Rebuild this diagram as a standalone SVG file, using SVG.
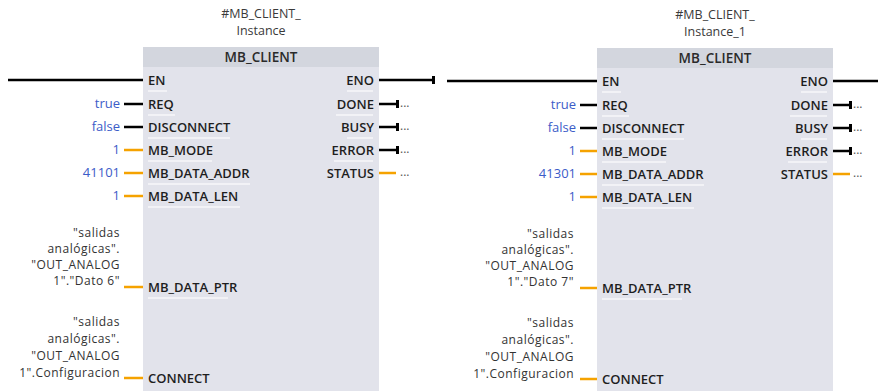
<svg xmlns="http://www.w3.org/2000/svg" width="878" height="391" viewBox="0 0 878 391">
  <style>
    .body { fill: #e2e3eb; }
    .head { fill: #d3d6de; }
    .title { font-family: "Open Sans", "Noto Sans", sans-serif; font-size: 12.5px; fill: #3a3a3a; text-anchor: middle; }
    .fbname { font-family: "Open Sans", "Noto Sans", sans-serif; font-size: 13.5px; font-weight: 600; fill: #2a2a2a; text-anchor: middle; }
    .pin { font-family: "Open Sans", "Noto Sans", sans-serif; font-size: 13px; font-weight: 600; fill: #1e1e1e; }
    .pout { font-family: "Open Sans", "Noto Sans", sans-serif; font-size: 13px; font-weight: 600; fill: #1e1e1e; text-anchor: end; }
    .val { font-family: "Open Sans", "Noto Sans", sans-serif; font-size: 13px; fill: #3c5cc8; text-anchor: end; }
    .opnd { font-family: "Open Sans", "Noto Sans", sans-serif; font-size: 12px; letter-spacing: 0.5px; fill: #333; text-anchor: end; }
    .dots { font-family: "Open Sans", "Noto Sans", sans-serif; font-size: 12px; fill: #555; }
    .bool { stroke: #000; stroke-width: 2.5; fill: none; }
    .word { stroke: #f5a200; stroke-width: 2.5; fill: none; }
    .sep { stroke: #f7f7fa; stroke-width: 1.5; }
    .tick { fill: #000; }
  </style>

  <!-- connectors: power rail, inputs and outputs -->
  <g id="connectors">
    <!-- left instance -->
    <line class="bool" x1="8" y1="80" x2="143" y2="80"/>
    <line class="bool" x1="124" y1="104" x2="143" y2="104"/>
    <line class="bool" x1="124" y1="127" x2="143" y2="127"/>
    <line class="word" x1="124" y1="150" x2="143" y2="150"/>
    <line class="word" x1="124" y1="173" x2="143" y2="173"/>
    <line class="word" x1="124" y1="196" x2="143" y2="196"/>
    <line class="word" x1="124" y1="287" x2="143" y2="287"/>
    <line class="word" x1="124" y1="378" x2="143" y2="378"/>
    <line class="bool" x1="379" y1="80" x2="433" y2="80"/>
    <rect class="tick" x="432" y="76" width="3" height="8"/>
    <line class="bool" x1="379" y1="104" x2="397" y2="104"/>
    <rect class="tick" x="396" y="100" width="3" height="8"/>
    <line class="bool" x1="379" y1="127" x2="397" y2="127"/>
    <rect class="tick" x="396" y="123" width="3" height="8"/>
    <line class="bool" x1="379" y1="150" x2="397" y2="150"/>
    <rect class="tick" x="396" y="146" width="3" height="8"/>
    <line class="word" x1="379" y1="173" x2="396" y2="173"/>

    <!-- right instance -->
    <line class="bool" x1="447" y1="81" x2="597" y2="81"/>
    <line class="bool" x1="580" y1="105" x2="597" y2="105"/>
    <line class="bool" x1="580" y1="128" x2="597" y2="128"/>
    <line class="word" x1="580" y1="151" x2="597" y2="151"/>
    <line class="word" x1="580" y1="174" x2="597" y2="174"/>
    <line class="word" x1="580" y1="197" x2="597" y2="197"/>
    <line class="word" x1="580" y1="288" x2="597" y2="288"/>
    <line class="word" x1="580" y1="379" x2="597" y2="379"/>
    <line class="bool" x1="833" y1="81" x2="878" y2="81"/>
    <line class="bool" x1="833" y1="105" x2="850" y2="105"/>
    <rect class="tick" x="849" y="101" width="3" height="8"/>
    <line class="bool" x1="833" y1="128" x2="850" y2="128"/>
    <rect class="tick" x="849" y="124" width="3" height="8"/>
    <line class="bool" x1="833" y1="151" x2="850" y2="151"/>
    <rect class="tick" x="849" y="147" width="3" height="8"/>
    <line class="word" x1="833" y1="174" x2="850" y2="174"/>
  </g>

  <!-- MB_CLIENT instance 1 -->
  <g id="mb_client_instance">
    <text class="title" x="261" y="18">#MB_CLIENT_</text>
    <text class="title" x="261" y="35">Instance</text>
    <rect class="body" x="143" y="47" width="236" height="350"/>
    <rect class="head" x="143" y="47" width="236" height="20"/>
    <text class="fbname" x="261" y="62">MB_CLIENT</text>

    <line class="sep" x1="148" y1="91" x2="167" y2="91"/>
    <line class="sep" x1="148" y1="115" x2="175" y2="115"/>
    <line class="sep" x1="148" y1="138" x2="230" y2="138"/>
    <line class="sep" x1="148" y1="161" x2="212" y2="161"/>
    <line class="sep" x1="148" y1="184" x2="250" y2="184"/>
    <line class="sep" x1="148" y1="207" x2="240" y2="207"/>
    <line class="sep" x1="148" y1="298" x2="228" y2="298"/>
    <line class="sep" x1="347" y1="91" x2="373" y2="91"/>
    <line class="sep" x1="336" y1="115" x2="373" y2="115"/>
    <line class="sep" x1="347" y1="138" x2="373" y2="138"/>
    <line class="sep" x1="334" y1="161" x2="373" y2="161"/>

    <text class="pin" x="148" y="85">EN</text>
    <text class="pin" x="148" y="109">REQ</text>
    <text class="pin" x="148" y="132">DISCONNECT</text>
    <text class="pin" x="148" y="155">MB_MODE</text>
    <text class="pin" x="148" y="178">MB_DATA_ADDR</text>
    <text class="pin" x="148" y="201">MB_DATA_LEN</text>
    <text class="pin" x="148" y="292">MB_DATA_PTR</text>
    <text class="pin" x="148" y="383">CONNECT</text>
    <text class="pout" x="374" y="85">ENO</text>
    <text class="pout" x="374" y="109">DONE</text>
    <text class="pout" x="374" y="132">BUSY</text>
    <text class="pout" x="374" y="155">ERROR</text>
    <text class="pout" x="374" y="178">STATUS</text>

    <text class="val" x="120" y="108">true</text>
    <text class="val" x="120" y="131">false</text>
    <text class="val" x="120" y="154">1</text>
    <text class="val" x="120" y="177">41101</text>
    <text class="val" x="120" y="200">1</text>
    <text class="opnd" x="120" y="237">"salidas</text>
    <text class="opnd" x="120" y="253">analógicas".</text>
    <text class="opnd" x="120" y="269">"OUT_ANALOG</text>
    <text class="opnd" x="120" y="285">1"."Dato 6"</text>
    <text class="opnd" x="120" y="326">"salidas</text>
    <text class="opnd" x="120" y="343">analógicas".</text>
    <text class="opnd" x="120" y="360">"OUT_ANALOG</text>
    <text class="opnd" x="120" y="377">1".Configuracion</text>

    <text class="dots" x="400" y="107">...</text>
    <text class="dots" x="400" y="130">...</text>
    <text class="dots" x="400" y="153">...</text>
    <text class="dots" x="400" y="176">...</text>
  </g>

  <!-- MB_CLIENT instance 2 -->
  <g id="mb_client_instance_1">
    <text class="title" x="715" y="19">#MB_CLIENT_</text>
    <text class="title" x="715" y="36">Instance_1</text>
    <rect class="body" x="597" y="48" width="236" height="350"/>
    <rect class="head" x="597" y="48" width="236" height="20"/>
    <text class="fbname" x="715" y="63">MB_CLIENT</text>

    <line class="sep" x1="602" y1="92" x2="621" y2="92"/>
    <line class="sep" x1="602" y1="116" x2="629" y2="116"/>
    <line class="sep" x1="602" y1="139" x2="684" y2="139"/>
    <line class="sep" x1="602" y1="162" x2="666" y2="162"/>
    <line class="sep" x1="602" y1="185" x2="704" y2="185"/>
    <line class="sep" x1="602" y1="208" x2="694" y2="208"/>
    <line class="sep" x1="602" y1="299" x2="682" y2="299"/>
    <line class="sep" x1="801" y1="92" x2="827" y2="92"/>
    <line class="sep" x1="790" y1="116" x2="827" y2="116"/>
    <line class="sep" x1="801" y1="139" x2="827" y2="139"/>
    <line class="sep" x1="788" y1="162" x2="827" y2="162"/>

    <text class="pin" x="602" y="86">EN</text>
    <text class="pin" x="602" y="110">REQ</text>
    <text class="pin" x="602" y="133">DISCONNECT</text>
    <text class="pin" x="602" y="156">MB_MODE</text>
    <text class="pin" x="602" y="179">MB_DATA_ADDR</text>
    <text class="pin" x="602" y="202">MB_DATA_LEN</text>
    <text class="pin" x="602" y="293">MB_DATA_PTR</text>
    <text class="pin" x="602" y="384">CONNECT</text>
    <text class="pout" x="828" y="86">ENO</text>
    <text class="pout" x="828" y="110">DONE</text>
    <text class="pout" x="828" y="133">BUSY</text>
    <text class="pout" x="828" y="156">ERROR</text>
    <text class="pout" x="828" y="179">STATUS</text>

    <text class="val" x="576" y="109">true</text>
    <text class="val" x="576" y="132">false</text>
    <text class="val" x="576" y="155">1</text>
    <text class="val" x="576" y="178">41301</text>
    <text class="val" x="576" y="201">1</text>
    <text class="opnd" x="574" y="238">"salidas</text>
    <text class="opnd" x="574" y="254">analógicas".</text>
    <text class="opnd" x="574" y="270">"OUT_ANALOG</text>
    <text class="opnd" x="574" y="286">1"."Dato 7"</text>
    <text class="opnd" x="574" y="327">"salidas</text>
    <text class="opnd" x="574" y="344">analógicas".</text>
    <text class="opnd" x="574" y="361">"OUT_ANALOG</text>
    <text class="opnd" x="574" y="378">1".Configuracion</text>

    <text class="dots" x="853" y="108">...</text>
    <text class="dots" x="853" y="131">...</text>
    <text class="dots" x="853" y="154">...</text>
    <text class="dots" x="853" y="177">...</text>
  </g>
</svg>
